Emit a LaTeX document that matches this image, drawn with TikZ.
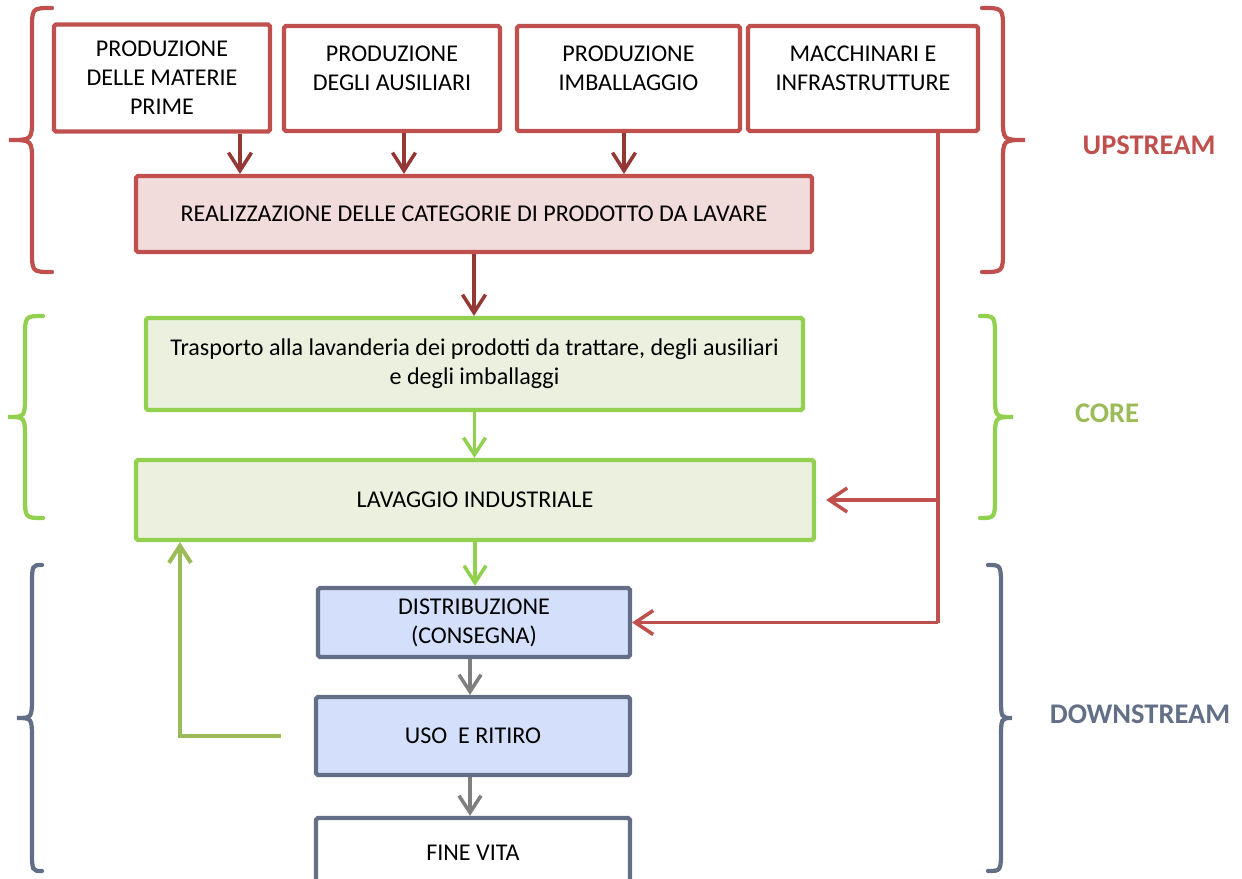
\documentclass[tikz,border=0pt]{standalone}
\usepackage{fontspec}
\setmainfont{Carlito}
\usetikzlibrary{arrows.meta,calc}

\definecolor{upred}{HTML}{C0504D}
\definecolor{updark}{HTML}{953735}
\definecolor{uppink}{HTML}{F2DCDB}
\definecolor{coregreen}{HTML}{92D050}
\definecolor{coreolive}{HTML}{9BBB59}
\definecolor{corefill}{HTML}{EBF1DE}
\definecolor{downslate}{HTML}{636E87}
\definecolor{downfill}{HTML}{D3DFFB}
\definecolor{downgray}{HTML}{7F7F7F}

% curly bracket: colour, end x, spine x, tip x, top y, middle y, bottom y
\newcommand{\sidebrace}[7]{%
  \draw[#1, line width=2.4pt, line cap=round]
    (#2,#5) .. controls (#3,#5) .. (#3,#5+22) -- (#3,#6-22)
    .. controls (#3,#6) .. (#4,#6) .. controls (#3,#6) .. (#3,#6+22)
    -- (#3,#7-22) .. controls (#3,#7) .. (#2,#7);}

\begin{document}
\begin{tikzpicture}[
    x=0.02cm, y=-0.02cm,
    font=\fontsize{13.7}{16.5}\selectfont,
    box/.style={draw, line width=2.4pt, rounded corners=1pt, align=center, inner sep=2pt},
    upbox/.style={box, draw=upred, fill=white},
    makebox/.style={box, draw=upred, fill=uppink},
    corebox/.style={box, draw=coregreen, fill=corefill},
    downbox/.style={box, draw=downslate, fill=downfill},
    darrow/.style={updark, line width=2pt, -{Straight Barb[length=3.6mm,width=4.6mm]}},
    redline/.style={upred, line width=2pt},
    redarrow/.style={redline, -{Straight Barb[length=3.6mm,width=4.8mm]}},
    garrow/.style={coregreen, line width=2pt, -{Straight Barb[length=3.4mm,width=4.4mm]}},
    fbarrow/.style={coreolive, line width=2.3pt, -{Straight Barb[length=3.4mm,width=4.4mm]}},
    grarrow/.style={downgray, line width=2pt, -{Straight Barb[length=3.4mm,width=4.4mm]}},
    phase/.style={font=\fontsize{16.2}{19}\selectfont\bfseries}
]
\useasboundingbox (0,0) rectangle (1242,879);

% upstream boxes
\node[upbox, minimum width=4.32cm, minimum height=2.14cm, text depth=-0.16cm] (matprime) at (162,78) {PRODUZIONE\\DELLE MATERIE\\PRIME};
\node[upbox, minimum width=4.32cm, minimum height=2.1cm, text depth=0.4cm] (ausiliari) at (392,78.5) {PRODUZIONE\\DEGLI AUSILIARI};
\node[upbox, minimum width=4.46cm, minimum height=2.1cm, text depth=0.4cm] (imballaggio) at (628.5,78.5) {PRODUZIONE\\IMBALLAGGIO};
\node[upbox, minimum width=4.6cm, minimum height=2.1cm, text depth=0.4cm] (macchinari) at (863,78.5) {MACCHINARI E\\INFRASTRUTTURE};
\node[makebox, minimum width=13.52cm, minimum height=1.52cm] (realizz) at (474,214) {REALIZZAZIONE DELLE CATEGORIE DI PRODOTTO DA LAVARE};

% core boxes
\node[corebox, minimum width=13.14cm, minimum height=1.84cm] (trasporto) at (474.5,364) {Trasporto alla lavanderia dei prodotti da trattare, degli ausiliari\\e degli imballaggi};
\node[corebox, minimum width=13.56cm, minimum height=1.6cm] (lavaggio) at (475,500) {LAVAGGIO INDUSTRIALE};

% downstream boxes
\node[downbox, minimum width=6.24cm, minimum height=1.38cm] (distrib) at (474,622.5) {DISTRIBUZIONE\\(CONSEGNA)};
\node[downbox, minimum width=6.28cm, minimum height=1.56cm] (uso) at (473,736) {USO\ \ E RITIRO};
\node[downbox, fill=white, minimum width=6.28cm, minimum height=1.4cm] (finevita) at (473,853) {FINE VITA};

% arrows into the realisation box
\coordinate (a1) at ([xshift=1.56cm]matprime.south);
\coordinate (a2) at ([xshift=0.24cm]ausiliari.south);
\coordinate (a3) at ([xshift=-0.09cm]imballaggio.south);
\draw[darrow] (a1) -- (a1 |- realizz.north);
\draw[darrow] (a2) -- (a2 |- realizz.north);
\draw[darrow] (a3) -- (a3 |- realizz.north);
\draw[darrow] (realizz.south) -- (realizz.south |- trasporto.north);

% main flow
\draw[garrow] (trasporto.south) -- (trasporto.south |- lavaggio.north);
\draw[garrow] (lavaggio.south) -- (lavaggio.south |- distrib.north);
\draw[grarrow] ([xshift=-0.08cm]distrib.south) -- ([xshift=-0.06cm]uso.north);
\draw[grarrow] ([xshift=-0.06cm]uso.south) -- ([xshift=-0.06cm]finevita.north);

% machines and infrastructures
\coordinate (m1) at ([xshift=1.5cm]macchinari.south);
\draw[redline] (m1) -- (m1 |- distrib.east);
\draw[redarrow] (m1 |- distrib.east) -- (distrib.east);
\draw[redarrow, shorten >=0.2cm] (m1 |- lavaggio.east) -- (lavaggio.east);

% return of used products
\coordinate (r1) at ([xshift=-0.66cm]uso.west);
\coordinate (r2) at ([xshift=0.92cm]lavaggio.south west);
\draw[fbarrow] (r1) -| (r2);

% phase brackets
\sidebrace{upred}{52}{32}{9}{8}{140}{272}
\sidebrace{upred}{982}{1003}{1025}{8}{140}{272}
\sidebrace{coregreen}{43}{25}{8}{316}{417}{518}
\sidebrace{coregreen}{980}{995}{1013}{316}{417}{518}
\sidebrace{downslate}{42}{32}{17}{565}{718}{871}
\sidebrace{downslate}{988}{1001}{1012}{565}{718}{871}

\node[phase, text=upred] (upstream) at (1149,145) {UPSTREAM};
\node[phase, text=coreolive] (core) at (1107,413) {CORE};
\node[phase, text=downslate] (downstream) at (1140,714) {DOWNSTREAM};
\end{tikzpicture}
\end{document}
